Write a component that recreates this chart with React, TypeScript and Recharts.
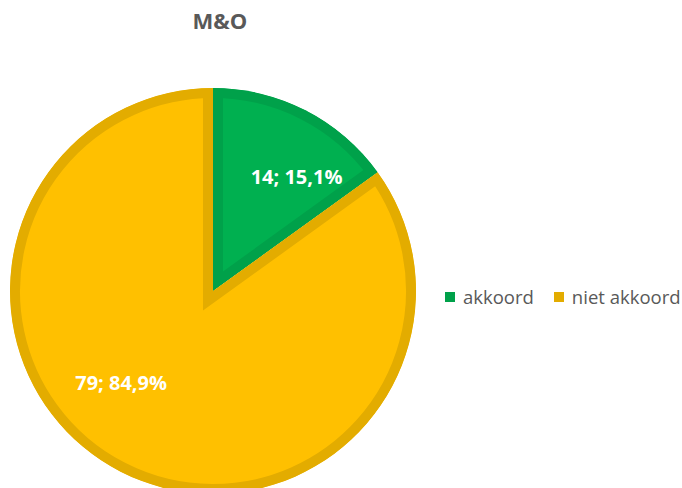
import React from 'react';
import { PieChart, Pie, Cell, Legend, Sector } from 'recharts';

const categories = ['akkoord', 'niet akkoord'];
const counts = [14, 79];
const percents = ['15,1%', '84,9%'];

const fills = ['#00B050', '#FFC000'];
const borders = ['#00A14A', '#E3AC00'];

// where Excel put the data labels (degrees, fraction of radius)
const labelAngles = [54, 225];
const labelRadius = [0.7, 0.64];

const data = categories.map((name, i) => ({ name, value: counts[i], pct: percents[i] }));

const RAD = Math.PI / 180;

// sector with the border drawn on the inside only
const InnerStrokeSector = (props: any) => {
  const id = `clip-sector-${props.index}`;
  return (
    <g>
      <defs>
        <clipPath id={id}>
          <Sector {...props} stroke="none" />
        </clipPath>
      </defs>
      <Sector {...props} strokeWidth={20} clipPath={`url(#${id})`} />
    </g>
  );
};

const renderLabel = (props: any) => {
  const { cx, cy, outerRadius, index } = props;
  const r = outerRadius * labelRadius[index];
  const x = cx + r * Math.cos(labelAngles[index] * RAD);
  const y = cy - r * Math.sin(labelAngles[index] * RAD);
  return (
    <text
      x={x}
      y={y}
      fill="#FFFFFF"
      textAnchor="middle"
      dominantBaseline="central"
      fontFamily="'Open Sans', sans-serif"
      fontWeight={700}
      fontSize={20}
    >
      {`${data[index].value}; ${data[index].pct}`}
    </text>
  );
};

const renderLegend = () => (
  <div style={{ display: 'flex', alignItems: 'center', fontFamily: "'Open Sans', sans-serif", fontSize: 18.5, color: '#595959' }}>
    {categories.map((c, i) => (
      <div key={c} style={{ display: 'flex', alignItems: 'center', marginRight: i === 0 ? 20 : 0 }}>
        <span style={{ width: 10, height: 10, background: borders[i], display: 'inline-block', marginRight: 8 }} />
        <span>{c}</span>
      </div>
    ))}
  </div>
);

export default function App() {
  return (
    <div style={{ position: 'fixed', left: 0, top: 0, width: 682, height: 488, background: '#fff', overflow: 'hidden' }}>
      <div
        style={{
          position: 'absolute',
          top: 5,
          left: 0,
          width: 440,
          textAlign: 'center',
          fontFamily: "'Open Sans', sans-serif",
          fontWeight: 700,
          fontSize: 22,
          color: '#595959',
        }}
      >
        M&amp;O
      </div>
      <PieChart width={682} height={488} margin={{ top: 0, right: 0, bottom: 0, left: 0 }}>
        <Pie
          data={data}
          dataKey="value"
          nameKey="name"
          cx={213}
          cy={291}
          outerRadius={203}
          startAngle={90}
          endAngle={-270}
          isAnimationActive={false}
          label={renderLabel}
          labelLine={false}
          shape={InnerStrokeSector}
        >
          {data.map((d, i) => (
            <Cell key={d.name} fill={fills[i]} stroke={borders[i]} />
          ))}
        </Pie>
        <Legend content={renderLegend} wrapperStyle={{ position: 'absolute', left: 445, top: 284, width: 240 }} />
      </PieChart>
    </div>
  );
}
